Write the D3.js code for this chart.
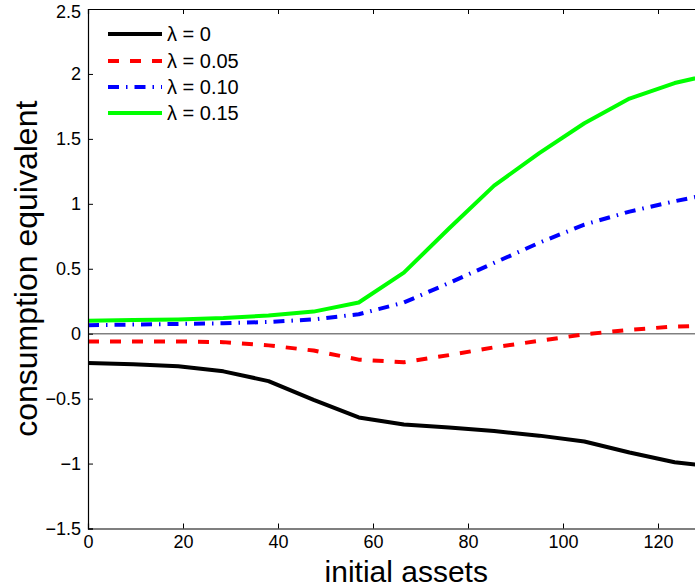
<!DOCTYPE html>
<html>
<head>
<meta charset="utf-8">
<script src="https://cdn.jsdelivr.net/npm/d3@7"></script>
<style>
  html, body { margin: 0; padding: 0; background: #fff; }
  svg { display: block; }
  text { font-family: "Liberation Sans", Arial, Helvetica, sans-serif; fill: #000; }
</style>
</head>
<body>
<svg id="chart" width="695" height="588"></svg>
<script>
// ---- data ----
const assets = [0, 9.5, 19, 28.5, 38, 47.5, 57, 66.5, 76, 85.5, 95, 104.5, 114, 123.5, 133];
const lambda0   = [-0.225, -0.235, -0.25, -0.29, -0.365, -0.51, -0.645, -0.70, -0.722, -0.75, -0.785, -0.83, -0.915, -0.99, -1.03];
const lambda005 = [-0.06, -0.06, -0.06, -0.065, -0.09, -0.13, -0.20, -0.22, -0.165, -0.105, -0.055, -0.005, 0.03, 0.055, 0.065];
const lambda010 = [0.065, 0.07, 0.075, 0.08, 0.09, 0.11, 0.15, 0.24, 0.39, 0.545, 0.70, 0.84, 0.94, 1.02, 1.09];
const lambda015 = [0.10, 0.105, 0.11, 0.12, 0.14, 0.17, 0.24, 0.47, 0.81, 1.14, 1.39, 1.62, 1.81, 1.93, 2.01];
const seriesNames = ["\u03bb = 0", "\u03bb = 0.05", "\u03bb = 0.10", "\u03bb = 0.15"];
const xTicks = [0, 20, 40, 60, 80, 100, 120];
const yTicks = [-1.5, -1, -0.5, 0, 0.5, 1, 1.5, 2, 2.5];
const xLabel = "initial assets";
const yLabel = "consumption equivalent";

// ---- styles ----
const colors = ["#000000", "#ff0000", "#0000ff", "#00ff00"];
const dashes = [null, "11,11", "11,7,1.5,7", null];

const svg = d3.select("#chart");
const mLeft = 88, mTop = 9, mBottom = 528.5;
const x = d3.scaleLinear().domain([0, 134]).range([mLeft, mLeft + 134 * 4.75]);
const y = d3.scaleLinear().domain([-1.5, 2.5]).range([mBottom, mTop]);
const mRight = x(134);

svg.append("defs").append("clipPath").attr("id", "plotclip")
  .append("rect").attr("x", mLeft).attr("y", mTop).attr("width", mRight - mLeft).attr("height", mBottom - mTop);

// zero line
svg.append("line")
  .attr("x1", mLeft).attr("x2", mRight).attr("y1", y(0)).attr("y2", y(0))
  .attr("stroke", "#808080").attr("stroke-width", 1.5);

// series lines
const data = [lambda0, lambda005, lambda010, lambda015];
const line = d3.line().x((d, i) => x(assets[i])).y(d => y(d));
const g = svg.append("g").attr("clip-path", "url(#plotclip)");
data.forEach((vals, k) => {
  g.append("path")
    .datum(vals)
    .attr("d", line)
    .attr("fill", "none")
    .attr("stroke", colors[k])
    .attr("stroke-width", 4)
    .attr("stroke-linejoin", "round")
    .attr("stroke-dasharray", dashes[k]);
});

// axes (ticks inward, Matlab-style box)
const fmt = d => (d < 0 ? "\u2212" : "") + Math.abs(d);
const xAxisB = d3.axisBottom(x).tickValues(xTicks).tickSize(-5).tickPadding(7).tickFormat(fmt);
const xAxisT = d3.axisTop(x).tickValues(xTicks).tickSize(-5).tickFormat("");
const yAxisL = d3.axisLeft(y).tickValues(yTicks).tickSize(-5).tickPadding(7).tickFormat(fmt);

const gxb = svg.append("g").attr("transform", `translate(0,${mBottom})`).call(xAxisB);
const gxt = svg.append("g").attr("transform", `translate(0,${mTop})`).call(xAxisT);
const gyl = svg.append("g").attr("transform", `translate(${mLeft},0)`).call(yAxisL);
[gxb, gxt, gyl].forEach(a => {
  a.select(".domain").attr("stroke", "#000").attr("stroke-width", 1.2);
  a.selectAll(".tick line").attr("stroke", "#000").attr("stroke-width", 1);
  a.selectAll(".tick text").attr("font-size", 18).attr("font-family", "Liberation Sans, Arial, sans-serif").attr("fill", "#000");
});
gxb.selectAll(".tick text").attr("dy", "0.71em");
// keep the top tick label inside the picture
gyl.selectAll(".tick text").filter(d => d === 2.5).attr("dy", "0.45em");

// axis labels
svg.append("text")
  .attr("x", (mLeft + mRight) / 2).attr("y", 581.5)
  .attr("text-anchor", "middle").attr("font-size", 30)
  .text(xLabel);
svg.append("text")
  .attr("transform", `translate(37,${(mTop + mBottom) / 2}) rotate(-90)`)
  .attr("text-anchor", "middle").attr("font-size", 32)
  .text(yLabel);

// legend
const legY = [34, 61, 87, 113];
seriesNames.forEach((name, k) => {
  svg.append("line")
    .attr("x1", 108).attr("x2", 162).attr("y1", legY[k]).attr("y2", legY[k])
    .attr("stroke", colors[k]).attr("stroke-width", 4)
    .attr("stroke-dasharray", dashes[k]);
  svg.append("text")
    .attr("x", 167).attr("y", legY[k]).attr("dy", "0.36em")
    .attr("font-size", 20)
    .text(name);
});
</script>
</body>
</html>
